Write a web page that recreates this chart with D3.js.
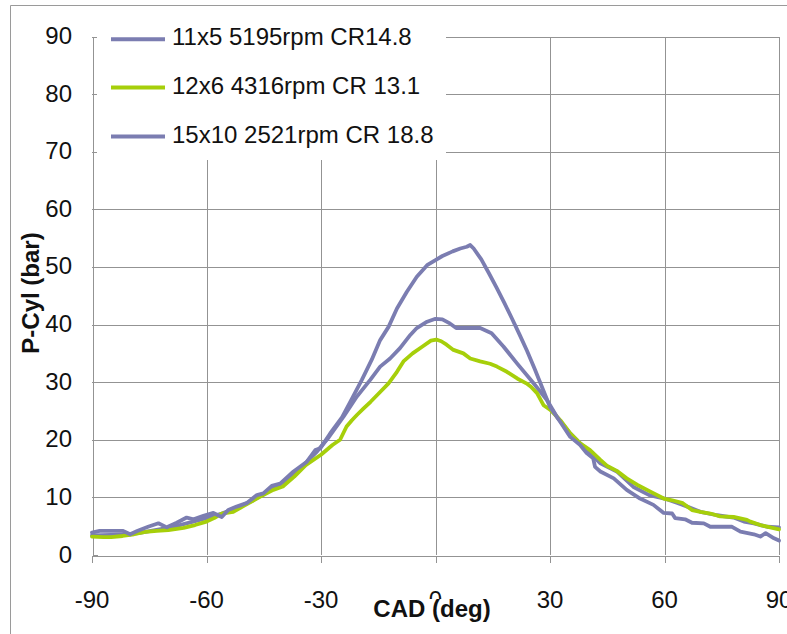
<!DOCTYPE html>
<html>
<head>
<meta charset="utf-8">
<script src="https://cdn.jsdelivr.net/npm/d3@7"></script>
<style>
  html, body { margin: 0; padding: 0; background: #fff; }
  svg { display: block; font-family: "Liberation Sans", Arial, Helvetica, sans-serif; }
</style>
</head>
<body>
<svg id="chart" width="787" height="634"></svg>
<script>
// Crank angle ticks and pressure ticks
const xTicks = [-90, -60, -30, 0, 30, 60, 90];
const yTicks = [0, 10, 20, 30, 40, 50, 60, 70, 80, 90];

// Series names (legend order)
const seriesNames = ["11x5 5195rpm CR14.8", "12x6 4316rpm CR 13.1", "15x10 2521rpm CR 18.8"];
const seriesColors = ["#7b7db1", "#a6cf0a", "#7b7db1"];

// Cylinder pressure traces: [crank angle (deg), pressure (bar)]
const p11x5 = [
  [-90,3.4],[-85,3.5],[-80,3.6],[-76,4.0],[-72,4.5],[-68,5.0],[-64,5.7],[-60,6.4],[-56,7.2],
  [-52,8.2],[-48,9.4],[-44,11.0],[-40,12.6],[-37,14.2],[-34,16.0],[-31,18.0],[-28,20.4],
  [-24.1,24],[-20.6,27.5],[-17.1,30.4],[-14.5,32.7],[-11.9,34.1],[-9.3,35.9],[-6.6,38.2],
  [-4.9,39.4],[-2.2,40.5],[0,41.0],[1.8,40.9],[3.5,40.3],[5.4,39.4],[8.2,39.4],[11.7,39.4],
  [14.7,38.5],[17.8,36.2],[21.3,33.3],[25.7,29.8],[29.2,26.9],[31.8,24],[35.3,21.1],
  [38.3,19.1],[40.9,17.4],[43.2,15.9],[47.5,14.5],[52,11.75],[56,10.4],[60,9.8],[63,9.1],
  [64.8,8.7],[69.4,7.5],[73.8,6.9],[78.1,6.5],[80.8,5.8],[83.4,5.5],[86.9,4.9],[90,4.8]
];

const p12x6 = [
  [-90,3.2],[-87,3.1],[-85,3.1],[-82,3.3],[-79,3.6],[-76,4.0],[-73,4.2],[-70,4.3],[-66,4.7],
  [-63,5.2],[-60,5.8],[-58,6.4],[-56,7.2],[-53,7.5],[-50,8.6],[-46,10.1],[-42.5,11.3],
  [-40,11.9],[-37,13.6],[-34,15.6],[-30,17.4],[-27,19.1],[-25,20],[-23.3,22.3],[-21.9,23.4],
  [-20.6,24.3],[-18.9,25.4],[-17,26.6],[-14.5,28.3],[-12.3,29.8],[-10.1,31.8],[-8.4,33.6],
  [-6,35],[-3.4,36.2],[-1.2,37.2],[0.2,37.4],[1.5,37.1],[2.9,36.5],[4.7,35.6],[7.3,35],
  [9.1,34.1],[11.7,33.6],[14.3,33.2],[16.1,32.7],[18.7,31.8],[21.5,30.6],[23.8,29.8],
  [25,29.2],[26.6,28.1],[28.3,26.0],[30.1,25.2],[32.7,23.4],[35.3,21.1],[37.9,19.4],
  [40.5,18.2],[43.2,16.5],[44.9,15.5],[47.5,14.6],[50.1,13.3],[52.8,12.2],[56.3,11],
  [59.8,9.8],[62,9.5],[64.8,9.0],[67.2,7.8],[69.4,7.5],[72,7.2],[74.6,6.7],[78.1,6.6],
  [81.6,6.1],[82.5,5.8],[85.1,5.2],[87.7,4.8],[90,4.45]
];

const p15x10 = [
  [-90,3.9],[-88,4.2],[-82,4.2],[-80,3.6],[-78,4.2],[-75.3,4.9],[-72.6,5.5],[-70.4,4.8],
  [-67.8,5.6],[-65.2,6.5],[-63.4,6.2],[-60.8,6.8],[-58.2,7.3],[-56,6.6],[-54.3,7.8],
  [-52.1,8.4],[-49.5,9.0],[-46.8,10.4],[-45.1,10.7],[-42.9,12.0],[-40.7,12.4],[-37.2,14.5],
  [-33.7,16.2],[-31.5,18.2],[-30.2,18.5],[-27.6,21.1],[-24.5,23.9],[-22.4,26.5],[-19.3,30.4],
  [-16.7,33.9],[-14.5,37.3],[-12.3,39.6],[-10.1,42.8],[-7.5,45.7],[-4.9,48.3],[-2.2,50.3],
  [0,51.2],[1.8,51.9],[4.5,52.7],[6.5,53.2],[8.2,53.5],[9.1,53.8],[10,53.2],[12,51.3],
  [14,48.9],[16,46.4],[18,43.8],[20,41.1],[22,38.3],[24,35.4],[26,32.3],[28,29.0],[30,25.7],
  [32.7,23.1],[35.3,20.5],[37.9,19.1],[39.6,17.7],[41.3,16.8],[41.8,15.3],[43.2,14.5],
  [46.7,13.3],[50.1,11.3],[53.6,9.8],[57.1,8.7],[59.8,7.3],[62,7.2],[62.8,6.4],[65.4,6.2],
  [67.2,5.6],[70.3,5.5],[72,4.9],[77.7,4.9],[79.9,4.05],[83.4,3.6],[85.1,3.2],[86.5,3.8],
  [88.7,2.9],[90,2.5]
];

const seriesData = [p11x5, p12x6, p15x10];

const svg = d3.select("#chart");
const gridColor = "#939393";
const fontSize = 24;

const x = d3.scaleLinear().domain([-90, 90]).range([92, 779]);
const y = d3.scaleLinear().domain([0, 90]).range([555, 36.5]);

// Outer chart frame
svg.append("path")
  .attr("d", "M10.5,634V5.5H787")
  .attr("fill", "none").attr("stroke", "#9a9a9a").attr("stroke-width", 1);

// Gridlines
const grid = svg.append("g").attr("shape-rendering", "crispEdges");
grid.selectAll("line.h").data(yTicks.filter(d => d > 0)).join("line")
  .attr("x1", x(-90)).attr("x2", x(90))
  .attr("y1", d => Math.round(y(d)) + 0.5).attr("y2", d => Math.round(y(d)) + 0.5)
  .attr("stroke", gridColor);
grid.selectAll("line.v").data(xTicks.filter(d => d > -90)).join("line")
  .attr("y1", y(90)).attr("y2", y(0))
  .attr("x1", d => Math.round(x(d)) + 0.5).attr("x2", d => Math.round(x(d)) + 0.5)
  .attr("stroke", gridColor);

// Axes: ticks inside on the pressure axis, outside on the crank-angle axis
const yAxis = svg.append("g")
  .attr("transform", `translate(${Math.round(x(-90)) + 0.5},0)`)
  .call(d3.axisLeft(y).tickValues(yTicks).tickSizeInner(-5).tickSizeOuter(0).tickFormat(""));
const xAxis = svg.append("g")
  .attr("transform", `translate(0,${Math.round(y(0)) + 0.5})`)
  .call(d3.axisBottom(x).tickValues(xTicks).tickSizeInner(7).tickSizeOuter(0).tickFormat(""));
[yAxis, xAxis].forEach(g => {
  g.selectAll("path, line").attr("stroke", gridColor).attr("shape-rendering", "crispEdges");
});

// Traces
const line = d3.line().x(d => x(d[0])).y(d => y(d[1]));
const traces = svg.append("g");
seriesData.forEach((s, i) => {
  traces.append("path")
    .datum(s)
    .attr("d", line)
    .attr("fill", "none")
    .attr("stroke", seriesColors[i])
    .attr("stroke-width", 3.8)
    .attr("stroke-linejoin", "round")
    .attr("stroke-linecap", "round");
});

// Legend on a white panel inside the plot area
const legend = svg.append("g");
legend.append("rect")
  .attr("x", 97).attr("y", 12).attr("width", 349).attr("height", 148)
  .attr("fill", "#fff");
const legendY = [39.3, 87.5, 136.5];
seriesNames.forEach((name, i) => {
  legend.append("line")
    .attr("x1", 111).attr("x2", 165)
    .attr("y1", legendY[i]).attr("y2", legendY[i])
    .attr("stroke", seriesColors[i]).attr("stroke-width", 4);
  legend.append("text")
    .attr("x", 172).attr("y", legendY[i] + 6)
    .attr("font-size", fontSize).attr("fill", "#111")
    .text(name);
});

// Tick labels
svg.append("g").selectAll("text").data(yTicks).join("text")
  .attr("x", 72).attr("y", d => y(d) + 7.5)
  .attr("text-anchor", "end").attr("font-size", fontSize).attr("fill", "#111")
  .text(d => d);
svg.append("g").selectAll("text").data(xTicks).join("text")
  .attr("x", d => x(d)).attr("y", 608)
  .attr("text-anchor", "middle").attr("font-size", fontSize).attr("fill", "#111")
  .text(d => d);

// Axis titles (the x title sits on its own white box)
const xTitle = svg.append("g");
xTitle.append("rect")
  .attr("x", 372).attr("y", 599).attr("width", 120).attr("height", 30)
  .attr("fill", "#fff");
xTitle.append("text")
  .attr("x", 432).attr("y", 617)
  .attr("text-anchor", "middle").attr("font-size", fontSize).attr("font-weight", "bold")
  .attr("fill", "#111")
  .text("CAD (deg)");
svg.append("text")
  .attr("transform", "translate(38.5,293) rotate(-90)")
  .attr("text-anchor", "middle").attr("font-size", fontSize).attr("font-weight", "bold")
  .attr("fill", "#111")
  .text("P-Cyl (bar)");
</script>
</body>
</html>
